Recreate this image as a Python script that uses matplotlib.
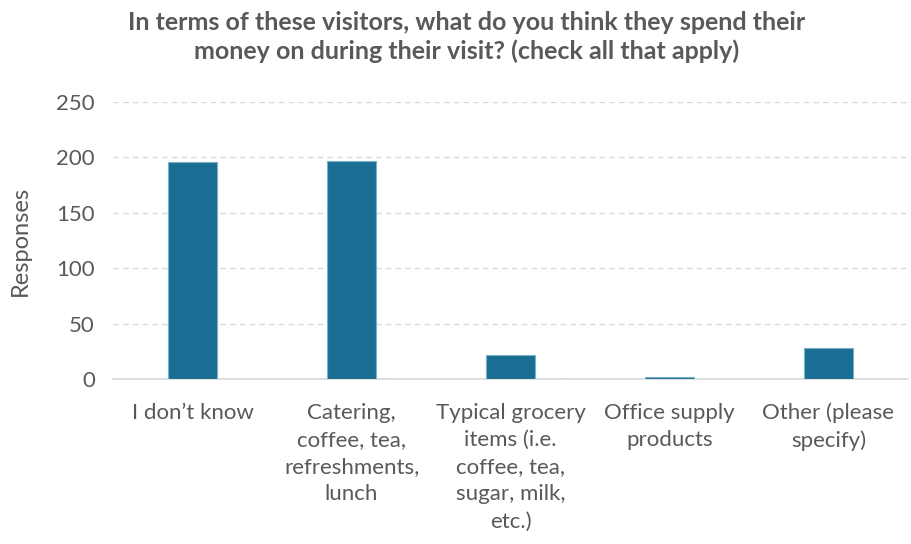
import matplotlib
matplotlib.use("Agg")
import matplotlib.pyplot as plt

categories = ["I don\u2019t know", "Catering,\ncoffee, tea,\nrefreshments,\nlunch",
              "Typical grocery\nitems (i.e.\ncoffee, tea,\nsugar, milk,\netc.)",
              "Office supply\nproducts", "Other (please\nspecify)"]
values = [196, 197, 22, 2, 28]
yticks = [0, 50, 100, 150, 200, 250]

plt.rcParams['font.family'] = ['Lato', 'DejaVu Sans']
gray = '#595959'

fig = plt.figure(figsize=(9.12, 5.44), dpi=100)
ax = fig.add_axes([113/912, 1-379/544, (908-113)/912, (379-102)/544])
x = range(len(categories))
ax.bar(x, values, width=0.31, color='#1A6E94', edgecolor='#7FAFC6', linewidth=0.8, zorder=3)
ax.set_ylim(0, 250)
ax.set_xlim(-0.5, len(categories) - 0.5)
ax.set_yticks(yticks)
ax.set_xticks(list(x))
ax.set_xticklabels(categories, fontsize=16, color=gray, linespacing=1.45)
ax.tick_params(axis='y', labelsize=16, labelcolor=gray, length=0, pad=13)
ax.tick_params(axis='x', length=0, pad=17)
for s in ['top', 'right', 'left']:
    ax.spines[s].set_visible(False)
ax.spines['bottom'].set_color('#D9D9D9')
ax.spines['bottom'].set_linewidth(1.2)
ax.yaxis.grid(True, linestyle=(0, (4, 3)), color='#D9D9D9', linewidth=1, zorder=0)
ax.set_axisbelow(True)
ax.set_ylabel('Responses', fontsize=17, color=gray, labelpad=18)
fig.text(467/912, 1-37/544, "In terms of these visitors, what do you think they spend their\nmoney on during their visit? (check all that apply)",
         ha='center', va='center', fontsize=18, fontweight='bold', color=gray, linespacing=1.25)
fig.savefig('out.png', dpi=100)
